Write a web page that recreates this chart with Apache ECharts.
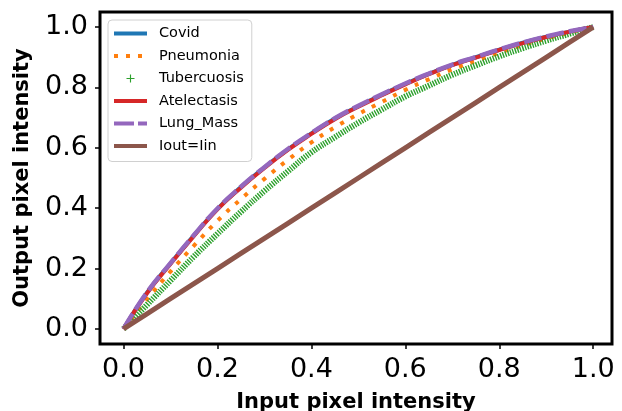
<!DOCTYPE html>
<html>
<head>
<meta charset="utf-8">
<script src="https://cdn.jsdelivr.net/npm/echarts@6/dist/echarts.min.js"></script>
<style>html,body{margin:0;padding:0;background:#fff}#c{width:622px;height:411px}</style>
</head>
<body>
<div id="c"></div>
<script>
// Input pixel intensity sample positions
const xs = [0, 0.05, 0.1, 0.15, 0.2, 0.25, 0.3, 0.35, 0.4, 0.45, 0.5, 0.55, 0.6, 0.65, 0.7, 0.75, 0.8, 0.85, 0.9, 0.95, 1.0];
// Output pixel intensity per series
const covid       = [0, 0.120, 0.217, 0.310, 0.398, 0.470, 0.535, 0.595, 0.648, 0.697, 0.738, 0.776, 0.812, 0.845, 0.875, 0.900, 0.925, 0.948, 0.968, 0.985, 1.0];
const pneumonia   = [0, 0.098, 0.190, 0.276, 0.358, 0.430, 0.497, 0.560, 0.618, 0.668, 0.712, 0.752, 0.792, 0.827, 0.860, 0.888, 0.915, 0.940, 0.962, 0.982, 1.0];
const tubercuosis = [0, 0.080, 0.160, 0.240, 0.315, 0.388, 0.457, 0.522, 0.585, 0.635, 0.683, 0.727, 0.770, 0.806, 0.842, 0.873, 0.903, 0.930, 0.955, 0.978, 1.0];
const atelectasis = [0, 0.118, 0.215, 0.308, 0.396, 0.468, 0.533, 0.593, 0.646, 0.695, 0.736, 0.774, 0.810, 0.844, 0.874, 0.899, 0.924, 0.947, 0.967, 0.985, 1.0];
const lungMass    = [0, 0.121, 0.218, 0.311, 0.399, 0.471, 0.536, 0.596, 0.649, 0.698, 0.739, 0.777, 0.813, 0.846, 0.876, 0.901, 0.926, 0.949, 0.969, 0.986, 1.0];
const identity    = [0, 0.05, 0.1, 0.15, 0.2, 0.25, 0.3, 0.35, 0.4, 0.45, 0.5, 0.55, 0.6, 0.65, 0.7, 0.75, 0.8, 0.85, 0.9, 0.95, 1.0];
const tickValues  = [0, 0.2, 0.4, 0.6, 0.8, 1.0];
const names = ['Covid', 'Pneumonia', 'Tubercuosis', 'Atelectasis', 'Lung_Mass', 'Iout=Iin'];

const pairs = ys => xs.map((x, i) => [x, ys[i]]);
const FONT = 'DejaVu Sans';
const plusPath = 'path://M4.3,0H5.7V4.3H10V5.7H5.7V10H4.3V5.7H0V4.3H4.3Z';

const chart = echarts.init(document.getElementById('c'), null, {renderer: 'canvas'});
chart.setOption({
  animation: false,
  backgroundColor: '#fff',
  grid: {left: 100, right: 10, top: 12, bottom: 67, outerBoundsMode: 'none', containLabel: false, show: true, borderColor: '#000', borderWidth: 3, backgroundColor: 'transparent'},
  xAxis: {
    type: 'value', min: -0.05, max: 1.04,
    name: 'Input pixel intensity', nameLocation: 'middle', nameGap: 48,
    nameTextStyle: {fontFamily: FONT, fontWeight: 'bold', fontSize: 21, color: '#000'},
    axisLine: {show: false, onZero: false},
    axisTick: {show: true, inside: false, customValues: tickValues, length: 5, lineStyle: {color: '#000', width: 1.5}},
    axisLabel: {customValues: tickValues, margin: 12, fontFamily: FONT, fontSize: 27, color: '#000', formatter: v => v.toFixed(1)},
    splitLine: {show: false}
  },
  yAxis: {
    type: 'value', min: -0.05, max: 1.05,
    name: 'Output pixel intensity', nameLocation: 'middle', nameGap: 67,
    nameTextStyle: {fontFamily: FONT, fontWeight: 'bold', fontSize: 21, color: '#000'},
    axisLine: {show: false, onZero: false},
    axisTick: {show: true, inside: false, customValues: tickValues, length: 5, lineStyle: {color: '#000', width: 1.5}},
    axisLabel: {customValues: tickValues, margin: 12, fontFamily: FONT, fontSize: 27, color: '#000', formatter: v => v.toFixed(1)},
    splitLine: {show: false}
  },
  legend: {
    left: 108, top: 20, orient: 'vertical',
    itemWidth: 33, itemHeight: 10, itemGap: 7.5,
    padding: [6, 8, 8, 4],
    backgroundColor: 'rgba(255,255,255,0.85)', borderColor: '#d0d0d0', borderWidth: 1, borderRadius: 4,
    textStyle: {fontFamily: FONT, fontSize: 14.5, color: '#000', padding: [0, 0, 0, 7]},
    data: [
      {name: names[0], itemStyle: {opacity: 0}, lineStyle: {width: 4}},
      {name: names[1], itemStyle: {opacity: 0}, lineStyle: {width: 4, type: [4, 8]}},
      {name: names[2], lineStyle: {opacity: 0}},
      {name: names[3], itemStyle: {opacity: 0}, lineStyle: {width: 4}},
      {name: names[4], itemStyle: {opacity: 0}, lineStyle: {width: 4, type: [20, 4]}},
      {name: names[5], itemStyle: {opacity: 0}, lineStyle: {width: 4}}
    ]
  },
  series: [
    {name: names[0], type: 'line', data: pairs(covid), smooth: true, symbol: 'none', color: '#1f77b4', lineStyle: {width: 4, color: '#1f77b4'}, z: 2},
    {name: names[1], type: 'line', data: pairs(pneumonia), smooth: true, symbol: 'none', color: '#ff7f0e', lineStyle: {width: 4, color: '#ff7f0e', type: [4, 8]}, z: 3},
    {name: names[2], type: 'line', data: pairs(tubercuosis), smooth: true, symbol: plusPath, symbolSize: 8, showSymbol: false, color: '#2ca02c', lineStyle: {width: 6, color: '#2ca02c', type: [1.4, 1.2]}, z: 4},
    {name: names[3], type: 'line', data: pairs(atelectasis), smooth: true, symbol: 'none', color: '#d62728', lineStyle: {width: 4, color: '#d62728'}, z: 5},
    {name: names[4], type: 'line', data: pairs(lungMass), smooth: true, symbol: 'none', color: '#9467bd', lineStyle: {width: 4.5, color: '#9467bd', type: [18, 5]}, z: 6},
    {name: names[5], type: 'line', data: pairs(identity), symbol: 'none', color: '#8c564b', lineStyle: {width: 5, color: '#8c564b'}, z: 7}
  ]
});
</script>
</body>
</html>
